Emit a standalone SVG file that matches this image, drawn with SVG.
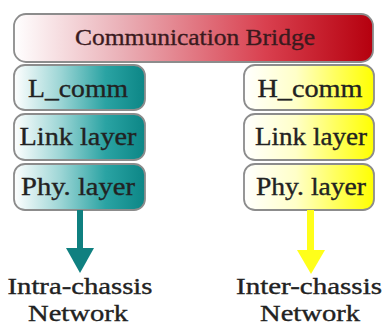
<svg xmlns="http://www.w3.org/2000/svg" width="385" height="327" viewBox="0 0 385 327">
<defs>
<linearGradient id="gRed" x1="0" y1="0" x2="1" y2="0">
<stop offset="0" stop-color="#ffffff"/>
<stop offset="0.3" stop-color="#eab0b7"/>
<stop offset="0.7" stop-color="#d9404f"/>
<stop offset="1" stop-color="#b5000e"/>
</linearGradient>
<linearGradient id="gTeal" x1="0" y1="0" x2="1" y2="0">
<stop offset="0" stop-color="#ffffff"/>
<stop offset="0.35" stop-color="#9ed6d6"/>
<stop offset="0.7" stop-color="#2aa3a3"/>
<stop offset="1" stop-color="#0c8686"/>
</linearGradient>
<linearGradient id="gYel" x1="0" y1="0" x2="1" y2="0">
<stop offset="0" stop-color="#ffffff"/>
<stop offset="0.4" stop-color="#ffffc8"/>
<stop offset="0.7" stop-color="#ffff60"/>
<stop offset="1" stop-color="#ffff00"/>
</linearGradient>
<style>
.box{stroke:#8c8c8c;stroke-width:1.8}
.t{font-family:"Liberation Serif","Times New Roman",serif;fill:#222;stroke:#222;stroke-width:0.35;text-anchor:middle}
.bt{font-size:25px}
.bot{font-size:23px}
</style>
</defs>
<g id="bridge">
<rect class="box" x="14" y="14" width="359" height="48" rx="12" fill="url(#gRed)"/>
<text class="t" x="195" y="45" font-size="24" style="fill:#3b1a1e;stroke:#3b1a1e" textLength="240" lengthAdjust="spacingAndGlyphs">Communication Bridge</text>
</g>
<g id="l_comm">
<rect class="box" x="14" y="65" width="131" height="45" rx="11" fill="url(#gTeal)"/>
<text class="t bt" x="78" y="97" textLength="100" lengthAdjust="spacingAndGlyphs">L_comm</text>
</g>
<g id="l_link">
<rect class="box" x="14" y="114" width="131" height="46" rx="11" fill="url(#gTeal)"/>
<text class="t bt" x="78" y="145" textLength="117" lengthAdjust="spacingAndGlyphs">Link layer</text>
</g>
<g id="l_phy">
<rect class="box" x="14" y="164" width="131" height="46" rx="11" fill="url(#gTeal)"/>
<text class="t bt" x="78" y="195" textLength="114" lengthAdjust="spacingAndGlyphs">Phy. layer</text>
</g>
<g id="h_comm">
<rect class="box" x="244" y="65" width="130" height="45" rx="11" fill="url(#gYel)"/>
<text class="t bt" x="310" y="97" textLength="105" lengthAdjust="spacingAndGlyphs">H_comm</text>
</g>
<g id="r_link">
<rect class="box" x="244" y="114" width="130" height="46" rx="11" fill="url(#gYel)"/>
<text class="t bt" x="311" y="145" textLength="112" lengthAdjust="spacingAndGlyphs">Link layer</text>
</g>
<g id="r_phy">
<rect class="box" x="244" y="164" width="130" height="46" rx="11" fill="url(#gYel)"/>
<text class="t bt" x="311" y="195" textLength="110" lengthAdjust="spacingAndGlyphs">Phy. layer</text>
</g>
<g id="connectors">
<rect x="77" y="210" width="6" height="40" fill="#0f8080"/>
<polygon points="66,248 94,248 80,273" fill="#0f8080"/>
<rect x="307" y="210" width="7" height="42" fill="#ffff1a"/>
<polygon points="297,250 325,250 311,274" fill="#ffff1a"/>
</g>
<g id="intra">
<text class="t bot" x="80" y="294" textLength="145" lengthAdjust="spacingAndGlyphs">Intra-chassis</text>
<text class="t bot" x="78" y="321" textLength="100" lengthAdjust="spacingAndGlyphs">Network</text>
</g>
<g id="inter">
<text class="t bot" x="309" y="294" textLength="146" lengthAdjust="spacingAndGlyphs">Inter-chassis</text>
<text class="t bot" x="310" y="321" textLength="100" lengthAdjust="spacingAndGlyphs">Network</text>
</g>
</svg>
